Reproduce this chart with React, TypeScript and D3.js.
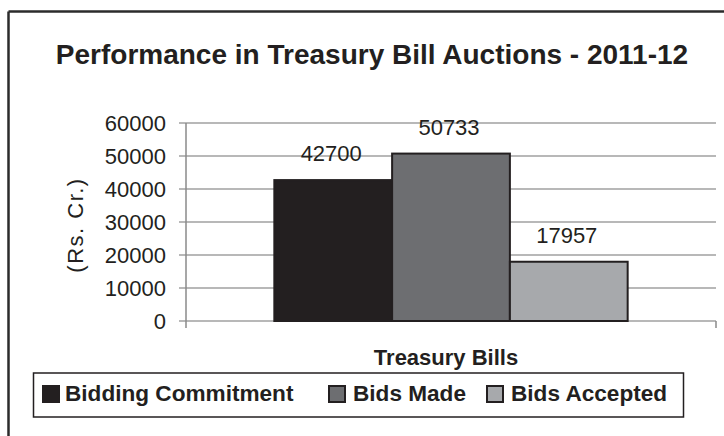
import React from "react";
import * as d3 from "d3";

const categories = ["Treasury Bills"];
const seriesNames = ["Bidding Commitment", "Bids Made", "Bids Accepted"];
const seriesValues = [42700, 50733, 17957];
const seriesColors = ["#231f20", "#6d6e71", "#a7a9ac"];
const yTicks = [0, 10000, 20000, 30000, 40000, 50000, 60000];

const W = 724;
const H = 436;
const FONT = "'Liberation Sans', Arial, Helvetica, sans-serif";

export default function App() {
  const plotL = 186;
  const plotR = 716;
  const plotT = 123;
  const plotB = 321;

  const x0 = d3.scaleBand<string>().domain(categories).range([plotL, plotR]).padding(0);
  const x1 = d3
    .scaleBand<string>()
    .domain(seriesNames)
    .range([0, x0.bandwidth()])
    .paddingInner(0)
    .paddingOuter(0.75);
  const y = d3.scaleLinear().domain([0, 60000]).range([plotB, plotT]);

  const legendItems = [
    { name: seriesNames[0], sx: 43, tx: 65 },
    { name: seriesNames[1], sx: 329, tx: 353 },
    { name: seriesNames[2], sx: 487, tx: 511 },
  ];

  return (
    <svg
      width={W}
      height={H}
      viewBox={`0 0 ${W} ${H}`}
      style={{ position: "absolute", left: 0, top: 0, background: "#fff" }}
      fontFamily={FONT}
    >
      <rect x={0} y={0} width={W} height={H} fill="#fff" />
      {/* outer frame (top and left visible) */}
      <line x1={8.5} y1={11.5} x2={W} y2={11.5} stroke="#2b2b2b" strokeWidth={2.5} />
      <line x1={8.5} y1={11.5} x2={8.5} y2={H} stroke="#2b2b2b" strokeWidth={2.5} />

      {/* title */}
      <text x={372} y={63.5} textAnchor="middle" fontSize={28} fontWeight="bold" fill="#231f20">
        Performance in Treasury Bill Auctions - 2011-12
      </text>

      {/* gridlines and y ticks */}
      {yTicks.map((t) => (
        <g key={t}>
          <line x1={179} x2={plotR} y1={y(t)} y2={y(t)} stroke="#a0a0a0" strokeWidth={1.5} />
          <text
            x={166}
            y={y(t)}
            dy="0.36em"
            textAnchor="end"
            fontSize={22}
            fill="#231f20"
          >
            {t}
          </text>
        </g>
      ))}
      {/* y axis line */}
      <line x1={plotL} x2={plotL} y1={plotT} y2={plotB + 7} stroke="#8a8a8a" strokeWidth={1.5} />
      {/* category axis end tick */}
      <line x1={plotR} x2={plotR} y1={plotB} y2={plotB + 7} stroke="#8a8a8a" strokeWidth={1.5} />

      {/* y axis title */}
      <text
        transform={`translate(83,225) rotate(-90)`}
        textAnchor="middle"
        fontSize={22}
        fill="#231f20"
        letterSpacing={1.5}
      >
        (Rs. Cr.)
      </text>

      {/* bars */}
      {categories.map((c) =>
        seriesNames.map((s, i) => {
          const bx = (x0(c) ?? 0) + (x1(s) ?? 0);
          const bw = x1.bandwidth();
          const by = y(seriesValues[i]);
          return (
            <g key={s}>
              <rect
                x={bx}
                y={by}
                width={bw}
                height={plotB - by}
                fill={seriesColors[i]}
                stroke="#231f20"
                strokeWidth={2}
              />
              <text
                x={bx + bw / 2 - 2}
                y={by - 19}
                textAnchor="middle"
                fontSize={22}
                fill="#231f20"
              >
                {seriesValues[i]}
              </text>
            </g>
          );
        })
      )}

      {/* x axis title */}
      <text x={446} y={365} textAnchor="middle" fontSize={22} fontWeight="bold" fill="#231f20">
        {categories[0]}
      </text>

      {/* legend */}
      <rect x={33.5} y={373} width={650} height={44} fill="#fff" stroke="#231f20" strokeWidth={1.5} />
      {legendItems.map((it, i) => (
        <g key={it.name}>
          <rect
            x={it.sx}
            y={386}
            width={16}
            height={16}
            fill={seriesColors[i]}
            stroke="#231f20"
            strokeWidth={2}
          />
          <text x={it.tx} y={401} fontSize={22.6} fontWeight="bold" fill="#231f20">
            {it.name}
          </text>
        </g>
      ))}
    </svg>
  );
}
